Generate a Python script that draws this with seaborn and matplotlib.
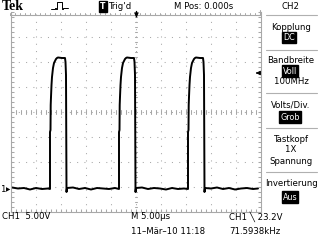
import matplotlib
matplotlib.use("Agg")
import matplotlib.pyplot as plt
from matplotlib.ticker import MultipleLocator
from matplotlib.lines import Line2D
from matplotlib import font_manager
import seaborn as sns
import pandas as pd
import numpy as np

sns.set_theme(style="white")

# pick a narrow sans font if one exists
narrow_family = None
narrow_stretch = "normal"
names = {f.name for f in font_manager.fontManager.ttflist}
if "Liberation Sans Narrow" in names:
    narrow_family = "Liberation Sans Narrow"
else:
    for f in font_manager.fontManager.ttflist:
        if f.name == "DejaVu Sans" and "Condensed" in f.fname and "Bold" not in f.fname and "Oblique" not in f.fname:
            narrow_family = "DejaVu Sans"
            narrow_stretch = "condensed"
            break
if narrow_family is None:
    narrow_family = "DejaVu Sans"
    FS = 6.2
elif narrow_family == "DejaVu Sans":
    FS = 6.8
else:
    FS = 7.5
plt.rcParams["font.family"] = [narrow_family, "DejaVu Sans"]
plt.rcParams["font.stretch"] = narrow_stretch

# ---- data (CH1 trace, time in microseconds relative to trigger, volts) ----
time_us = [
    -24.8, -23.6, -22.4, -21.2, -20.0, -18.8, -17.6,
    -17.2, -17.2, -17.1, -17.06, -17.0, -16.9, -16.8, -16.6, -16.4, -16.2, -16.0, -15.8, -15.6, -14.8, -14.2, -14.1, -14.0, -13.9, -13.8,
    -12.6, -11.4, -10.2, -9.0, -7.8, -6.6, -5.4, -4.2,
    -3.4, -3.4, -3.3, -3.26, -3.2, -3.1, -3.0, -2.8, -2.6, -2.4, -2.2, -2.0, -1.8, -1.0, -0.4, -0.3, -0.2, -0.1, 0.0,
    1.2, 2.4, 3.6, 4.8, 6.0, 7.2, 8.4, 9.6,
    10.4, 10.4, 10.5, 10.54, 10.6, 10.7, 10.8, 11.0, 11.2, 11.4, 11.6, 11.8, 12.0, 12.8, 13.4, 13.5, 13.6, 13.7, 13.8,
    15.0, 16.2, 17.4, 18.6, 19.8, 21.0, 22.2, 23.4, 24.4,
]
volts = [
    0.3, 0.1, 0.2, -0.1, 0.2, 0.0, 0.1,
    0.0, 11.4, 11.8, 16.8, 18.4, 20.8, 22.4, 24.2, 25.2, 25.6, 26.0, 26.2, 26.3, 26.2, 26.2, 25.4, 22.8, -0.6, 0.2,
    0.3, 0.0, 0.2, -0.1, 0.2, 0.1, 0.0, 0.2,
    0.0, 11.4, 11.8, 16.8, 18.4, 20.8, 22.4, 24.2, 25.2, 25.6, 26.0, 26.2, 26.3, 26.2, 26.2, 25.4, 22.8, -0.6, 0.2,
    0.3, 0.0, 0.2, 0.1, -0.1, 0.2, 0.0, 0.1,
    0.0, 11.4, 11.8, 16.8, 18.4, 20.8, 22.4, 24.2, 25.2, 25.6, 26.0, 26.2, 26.3, 26.2, 26.2, 25.4, 22.8, -0.6, 0.2,
    0.1, 0.3, 0.0, 0.2, -0.1, 0.1, 0.2, 0.0, 0.1,
]
trigger_level_v = 23.2
x_range_us = (-25.0, 25.0)
y_range_v = (-4.6, 35.4)
div_us = 5.0
div_v = 5.0

menu_title = "CH2"
menu_labels = ["Kopplung", "Bandbreite", "Volts/Div.", "Tastkopf", "Invertierung"]
menu_values = ["DC", "Voll", "Grob", None, "Aus"]
menu_extra = [None, "100MHz", None, "1X\nSpannung", None]
bottom_left = "CH1  5.00V"
bottom_mid = ["M 5.00\u00b5s", "11\u2013M\u00e4r\u201310 11:18"]
bottom_right = ["CH1 \u2572 23.2V", "71.5938kHz"]
top_pos = "M Pos: 0.000s"

W, H = 320, 240
fig = plt.figure(figsize=(W / 100, H / 100), dpi=100)
fig.patch.set_facecolor("white")

def fx(x):
    return x / W

def fy(y):
    return 1 - y / H

GL, GT, GW, GH = 11, 12, 250, 200
ax = fig.add_axes([fx(GL), fy(GT + GH), GW / W, GH / H])
ax.set_facecolor("white")

df = pd.DataFrame({"t": time_us, "v": volts})
sns.lineplot(data=df, x="t", y="v", estimator=None, sort=False, color="black",
             lw=1.4, ax=ax, legend=False)
ax.set_xlim(*x_range_us)
ax.set_ylim(*y_range_v)
ax.set_xlabel("")
ax.set_ylabel("")

grid_c = "#a8a8a8"
xc = (x_range_us[0] + x_range_us[1]) / 2
yc = (y_range_v[0] + y_range_v[1]) / 2
for i in range(1, 10):
    xv = x_range_us[0] + i * div_us
    ax.axvline(xv, color=grid_c, lw=0.75, ls=(0, (1, 6)), zorder=0)
for i in range(1, 8):
    yv = y_range_v[0] + i * div_v
    ax.axhline(yv, color=grid_c, lw=0.75, ls=(0, (1, 6)), zorder=0)

# center cross tick marks
for k in np.arange(x_range_us[0], x_range_us[1] + 0.01, 1.0):
    ax.plot([k, k], [yc - 0.35, yc + 0.35], color=grid_c, lw=0.75, zorder=0)
for k in np.arange(y_range_v[0], y_range_v[1] + 0.01, 1.0):
    ax.plot([xc - 0.2, xc + 0.2], [k, k], color=grid_c, lw=0.75, zorder=0)

for s in ["left", "right", "bottom"]:
    ax.spines[s].set_color(grid_c)
    ax.spines[s].set_linewidth(0.8)
ax.spines["top"].set_visible(False)

ax.set_xticks(np.arange(x_range_us[0], x_range_us[1] + 0.01, 1.0))
ax.set_yticks(np.arange(y_range_v[0], y_range_v[1] + 0.01, 1.0))
ax.tick_params(axis="both", which="both", direction="in", length=2.2, width=0.75,
               color=grid_c, labelbottom=False, labelleft=False,
               bottom=True, left=True, right=True, top=False)

# top ruler
fig.add_artist(Line2D([fx(10), fx(260)], [fy(15), fy(15)], color=grid_c, lw=0.8))
for xp in np.arange(10, 261, 5):
    fig.add_artist(Line2D([fx(xp), fx(xp)], [fy(15), fy(13)], color=grid_c, lw=0.7))
fig.add_artist(Line2D([fx(260), fx(260)], [fy(15), fy(10)], color=grid_c, lw=0.8))
# trigger position marker
fig.add_artist(Line2D([fx(136), fx(136)], [fy(11), fy(16)], color="black", lw=1.0))
fig.text(fx(136), fy(15), "\u25bc", ha="center", va="center", fontsize=5,
         family=["DejaVu Sans"], color="black")

# trigger level marker on right edge
ax.annotate("", xy=(x_range_us[1] - 1.6, trigger_level_v), xytext=(x_range_us[1] - 0.2, trigger_level_v),
            arrowprops=dict(arrowstyle="-|>", color="black", lw=0.8, mutation_scale=6))

# ground marker
fig.text(fx(1), fy(190), "1", ha="left", va="center", fontsize=FS, color="black")
fig.text(fx(10.5), fy(189.5), "\u25b6", ha="right", va="center", fontsize=4.5,
         family=["DejaVu Sans"], color="black")

# header
fig.text(fx(1.5), fy(7), "Tek", ha="left", va="center", fontsize=10, fontweight="bold",
         family=["Liberation Serif", "DejaVu Serif"], color="black")
px = [51, 55, 55, 56, 56, 57, 57, 62, 62, 63, 63, 68]
py = [9, 9, 8, 8, 9, 9, 2, 2, 9, 9, 8, 8]
fig.add_artist(Line2D([fx(p) for p in px], [fy(p) for p in py], color="black", lw=0.7))
fig.text(fx(103), fy(6.5), "T", ha="center", va="center", fontsize=FS - 0.5, color="white",
         fontweight="bold",
         bbox=dict(boxstyle="square,pad=0.15", fc="black", ec="black"))
fig.text(fx(109), fy(6.5), "Trig'd", ha="left", va="center", fontsize=FS, color="black")
fig.text(fx(174), fy(6.5), top_pos, ha="left", va="center", fontsize=FS, color="black")

# menu
mx = 291
fig.text(fx(mx), fy(6.5), menu_title, ha="center", va="center", fontsize=FS, color="black")
sep_c = "#b0b0b0"
for yy in [15, 50, 93, 128, 172]:
    fig.add_artist(Line2D([fx(266), fx(317)], [fy(yy), fy(yy)], color=sep_c, lw=0.8))

def inv(x, y, s):
    fig.text(fx(x), fy(y), s, ha="center", va="center", fontsize=FS - 0.4, color="white",
             bbox=dict(boxstyle="square,pad=0.12", fc="black", ec="black"))

def txt(x, y, s):
    fig.text(fx(x), fy(y), s, ha="center", va="center", fontsize=FS, color="black")

txt(mx, 27, menu_labels[0])
inv(289, 37.5, menu_values[0])
txt(mx, 60.5, menu_labels[1])
inv(290, 71, menu_values[1])
txt(mx, 82, menu_extra[1])
txt(mx, 104.5, menu_labels[2])
inv(290, 117, menu_values[2])
txt(mx, 139, menu_labels[3])
l1, l2 = menu_extra[3].split("\n")
txt(mx, 150, l1)
txt(mx, 161, l2)
txt(mx, 184, menu_labels[4])
inv(290, 197, menu_values[4])

# bottom texts
fig.text(fx(2), fy(216.5), bottom_left, ha="left", va="center", fontsize=FS, color="black")
fig.text(fx(131), fy(216.5), bottom_mid[0], ha="left", va="center", fontsize=FS, color="black")
fig.text(fx(131), fy(231), bottom_mid[1], ha="left", va="center", fontsize=FS, color="black")
fig.text(fx(229), fy(216.5), bottom_right[0], ha="left", va="center", fontsize=FS, color="black")
fig.text(fx(229), fy(231), bottom_right[1], ha="left", va="center", fontsize=FS, color="black")

fig.savefig("out.png", dpi=100, facecolor="white")
